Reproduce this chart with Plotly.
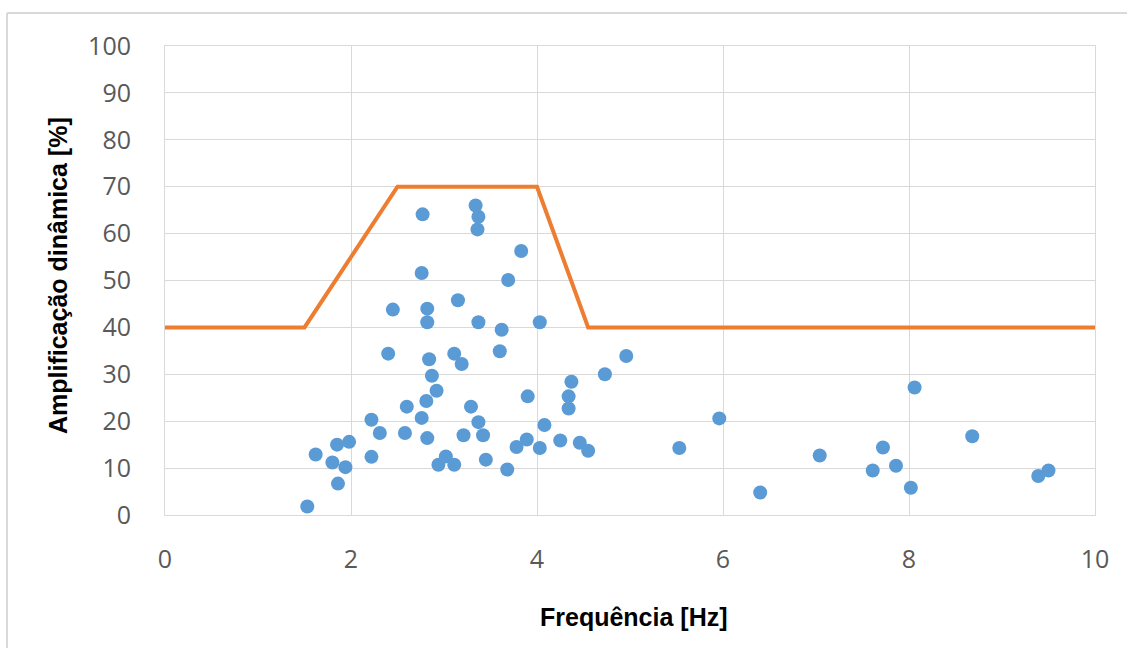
import plotly.graph_objects as go

# Scatter data: frequency [Hz] vs dynamic amplification [%]
freq = [1.53, 1.62, 1.86, 1.80, 1.94, 1.85, 1.98, 2.22, 2.22, 2.31,
        2.40, 2.45, 2.58, 2.60, 2.77, 2.76, 2.76, 2.81, 2.82, 2.82,
        2.82, 2.84, 2.87, 2.92, 2.94, 3.02, 3.11, 3.15, 3.11, 3.19,
        3.21, 3.29, 3.34, 3.37, 3.36, 3.37, 3.37, 3.42, 3.45, 3.60,
        3.62, 3.68, 3.69, 3.78, 3.83, 3.89, 3.90, 4.03, 4.03, 4.08,
        4.25, 4.37, 4.34, 4.34, 4.46, 4.55, 4.73, 4.96, 5.53, 5.96,
        6.40, 7.04, 7.61, 7.72, 7.86, 8.02, 8.06, 8.68, 9.39, 9.50]
ampl = [1.8, 12.9, 6.7, 11.2, 10.2, 15.0, 15.6, 12.4, 20.3, 17.5,
        34.4, 43.8, 17.5, 23.1, 64.1, 51.6, 20.7, 24.3, 16.4, 44.0,
        41.1, 33.2, 29.7, 26.5, 10.7, 12.5, 10.7, 45.8, 34.4, 32.2,
        17.0, 23.1, 66.0, 63.6, 60.9, 41.1, 19.8, 17.0, 11.8, 34.9,
        39.5, 9.7, 50.1, 14.5, 56.3, 16.1, 25.3, 41.1, 14.3, 19.2,
        15.9, 28.4, 25.3, 22.7, 15.4, 13.7, 30.0, 33.9, 14.3, 20.6,
        4.8, 12.7, 9.5, 14.4, 10.5, 5.8, 27.2, 16.8, 8.3, 9.5]

# Limit curve
limit_x = [0, 1.5, 2.5, 4.0, 4.55, 10]
limit_y = [40, 40, 70, 70, 40, 40]

x_ticks = [0, 2, 4, 6, 8, 10]
y_ticks = [0, 10, 20, 30, 40, 50, 60, 70, 80, 90, 100]

x_title = "Frequência [Hz]"
y_title = "Amplificação dinâmica [%]"

fig = go.Figure()
fig.add_trace(go.Scatter(x=limit_x, y=limit_y, mode="lines",
                         line=dict(color="#ED7D31", width=4),
                         showlegend=False, hoverinfo="skip"))
fig.add_trace(go.Scatter(x=freq, y=ampl, mode="markers",
                         marker=dict(color="#5B9BD5", size=14, line=dict(width=0)),
                         showlegend=False))

W, H = 1127, 648
L, R, T, B = 165, 32, 46, 133
pw, ph = W - L - R, H - T - B

def px_x(p):
    return (p - L) / pw

def px_y(p):
    return (H - B - p) / ph

tick_font = dict(family="Open Sans, sans-serif", size=25, color="#595959")
axis_common = dict(showgrid=True, gridcolor="#d9d9d9", gridwidth=1,
                   showline=True, linecolor="#d9d9d9", linewidth=1, mirror=True,
                   zeroline=False, ticks="", tickfont=tick_font, fixedrange=True)

fig.update_xaxes(range=[0, 10], tickvals=x_ticks, ticklabelstandoff=22, **axis_common)
fig.update_yaxes(range=[0, 100], tickvals=y_ticks, ticklabelstandoff=28, **axis_common)

title_font = dict(family="Liberation Sans, Arial, sans-serif", size=25, color="#000000")
fig.add_annotation(text="<b>" + y_title + "</b>", xref="paper", yref="paper",
                   x=px_x(58), y=px_y(276), textangle=-90, showarrow=False,
                   xanchor="center", yanchor="middle", font=title_font)
fig.add_annotation(text="<b>" + x_title + "</b>", xref="paper", yref="paper",
                   x=px_x(634), y=px_y(617), showarrow=False,
                   xanchor="center", yanchor="middle", font=title_font)

# Outer chart frame (top and left edges visible)
fig.add_shape(type="line", xref="paper", yref="paper",
              x0=px_x(7), x1=px_x(1127), y0=px_y(13), y1=px_y(13),
              line=dict(color="#d9d9d9", width=2))
fig.add_shape(type="line", xref="paper", yref="paper",
              x0=px_x(7), x1=px_x(7), y0=px_y(13), y1=px_y(648),
              line=dict(color="#d9d9d9", width=2))

fig.update_layout(width=W, height=H, margin=dict(l=L, r=R, t=T, b=B),
                  paper_bgcolor="white", plot_bgcolor="white")

fig.write_html("out.html")
